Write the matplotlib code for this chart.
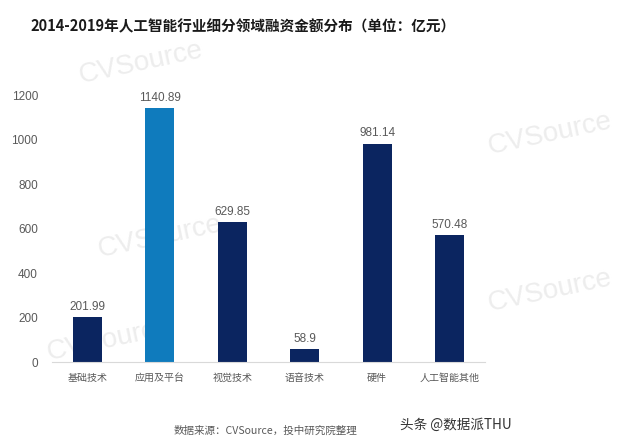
import numpy as np
import matplotlib
matplotlib.use('Agg')
from matplotlib import pyplot as plt

plt.rcParams['font.family'] = ['Noto Sans CJK SC', 'DejaVu Sans']

# data
categories = ['基础技术', '应用及平台', '视觉技术', '语音技术', '硬件', '人工智能其他']
values = [201.99, 1140.89, 629.85, 58.9, 981.14, 570.48]
value_labels = ['201.99', '1140.89', '629.85', '58.9', '981.14', '570.48']
yticks = [0, 200, 400, 600, 800, 1000, 1200]

navy = '#0b2560'
blue = '#0f7bbd'
colors = [navy, blue, navy, navy, navy, navy]

fig = plt.figure(figsize=(6.4, 4.47), dpi=100)
ax = fig.add_axes([0.081, 0.19, 0.677, 0.597], zorder=2)
ax.patch.set_alpha(0)

x = np.arange(len(categories))
bars = ax.bar(x, values, width=0.4, color=colors, zorder=2)
for b, lab in zip(bars, value_labels):
    ax.text(b.get_x() + b.get_width() / 2, b.get_height() + 20, lab,
            ha='center', va='bottom', fontsize=8.5, color='#595959',
            family='Liberation Sans')

ax.set_xlim(-0.49, 5.49)
ax.set_ylim(0, 1200)
ax.set_yticks(yticks)
ax.set_yticklabels([str(t) for t in yticks], family='Liberation Sans')
ax.set_xticks(x)
ax.set_xticklabels(categories, fontsize=7.2)
ax.tick_params(axis='both', length=0, colors='#595959')
ax.tick_params(axis='y', labelsize=8.5, pad=10)
ax.tick_params(axis='x', pad=8)
for s in ['top', 'right', 'left']:
    ax.spines[s].set_visible(False)
ax.spines['bottom'].set_color('#d9d9d9')

# CVSource watermarks (behind the chart)
for wx, wy in [(0.22, 0.86), (0.25, 0.47), (0.86, 0.70), (0.86, 0.35), (0.17, 0.24)]:
    fig.text(wx, wy, 'CVSource', fontsize=20, color='#ededed', rotation=12,
             ha='center', va='center', family='Liberation Sans', zorder=0)

fig.text(0.047, 0.94, '2014-2019年人工智能行业细分领域融资金额分布（单位：亿元）',
         fontsize=10.5, fontweight='bold', color='#1a1a1a', ha='left', va='center')
fig.text(0.415, 0.036, '数据来源：CVSource，投中研究院整理', fontsize=7.6,
         color='#595959', ha='center', va='center')
fig.text(0.625, 0.049, '头条 @数据派THU', fontsize=9.8, color='#333333',
         ha='left', va='center')

fig.savefig('out.png', dpi=100)
